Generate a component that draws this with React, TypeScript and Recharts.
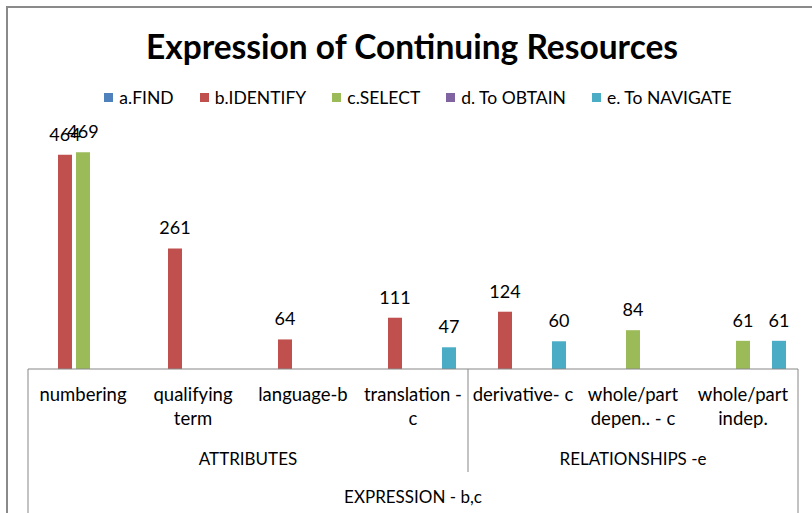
import { BarChart, Bar, XAxis, YAxis, Legend, LabelList } from "recharts";

const categories = [
  "numbering",
  "qualifying\nterm",
  "language-b",
  "translation -\nc",
  "derivative- c",
  "whole/part\ndepen.. - c",
  "whole/part\nindep.",
];

// null = no bar in that slot
const findValues = [null, null, null, null, null, null, null];
const identifyValues = [464, 261, 64, 111, 124, null, null];
const selectValues = [469, null, null, null, null, 84, 61];
const obtainValues = [null, null, null, null, null, null, null];
const navigateValues = [null, null, null, 47, 60, null, 61];

const groups = [
  { label: "ATTRIBUTES", start: 0, end: 3 },
  { label: "RELATIONSHIPS -e", start: 4, end: 6 },
];
const topGroup = "EXPRESSION - b,c";

const series = [
  { key: "find", name: "a.FIND", color: "#4F81BD", values: findValues },
  { key: "identify", name: "b.IDENTIFY", color: "#C0504D", values: identifyValues },
  { key: "select", name: "c.SELECT", color: "#9BBB59", values: selectValues },
  { key: "obtain", name: "d. To OBTAIN", color: "#8064A2", values: obtainValues },
  { key: "navigate", name: "e. To NAVIGATE", color: "#4BACC6", values: navigateValues },
];

const data = categories.map((cat, i) => {
  const row: Record<string, string | number | null> = { cat };
  series.forEach((s) => (row[s.key] = s.values[i]));
  return row;
});

const W = 812;
const H = 513;
const FONT = "Lato, 'Open Sans', sans-serif";
const LINE = "#868686";

const CategoryTick = (props: any) => {
  const { x, y, payload, index } = props;
  const half = payload?.offset || 55;
  const lines = String(payload.value).split("\n");
  const left = x - half;
  const right = x + half;
  const out: any[] = [];
  lines.forEach((ln, i) => {
    out.push(
      <text key={"l" + i} x={x} y={y + 32 + i * 24} textAnchor="middle" fontSize={18.5} fill="#000" fontFamily={FONT}>
        {ln}
      </text>
    );
  });
  groups.forEach((g, gi) => {
    if (g.start === index) {
      const span = (g.end - g.start + 1) * half * 2;
      out.push(
        <text key={"g" + gi} x={left + span / 2} y={y + 96} textAnchor="middle" fontSize={17} fill="#000" fontFamily={FONT}>
          {g.label}
        </text>
      );
      if (index === 0) {
        out.push(<line key="outL" x1={left} x2={left} y1={y} y2={H} stroke={LINE} strokeWidth={1} />);
        const all = categories.length * half * 2;
        out.push(
          <text key="top" x={left + all / 2} y={y + 134} textAnchor="middle" fontSize={17} fill="#000" fontFamily={FONT}>
            {topGroup}
          </text>
        );
      } else {
        out.push(<line key={"sep" + gi} x1={left} x2={left} y1={y} y2={y + 103} stroke={LINE} strokeWidth={1} />);
      }
    }
  });
  if (index === categories.length - 1) {
    out.push(<line key="outR" x1={right} x2={right} y1={y} y2={H} stroke={LINE} strokeWidth={1} />);
  }
  return <g>{out}</g>;
};

const renderLabel = (props: any) => {
  const { x, y, width, value } = props;
  if (value === null || value === undefined) return null;
  return (
    <text x={x + width / 2} y={y - 14} textAnchor="middle" fontSize={18} fill="#000" fontFamily={FONT}>
      {value}
    </text>
  );
};

const LegendContent = (props: any) => {
  const items = props.payload || [];
  return (
    <div style={{ display: "flex", justifyContent: "center", fontFamily: FONT, fontSize: 17.5, color: "#000", paddingLeft: 50 }}>
      {items.map((it: any) => (
        <div key={it.value} style={{ display: "flex", alignItems: "center", marginRight: 26 }}>
          <span style={{ width: 9, height: 9, background: it.color, display: "inline-block", marginRight: 6 }} />
          <span>{it.value}</span>
        </div>
      ))}
    </div>
  );
};

export default function App() {
  return (
    <div style={{ position: "absolute", left: 0, top: 0, width: W, height: H, overflow: "hidden", background: "#fff" }}>
      <div
        style={{
          position: "absolute",
          left: 6,
          top: 6,
          width: 900,
          height: 700,
          border: "2px solid #8a8a8a",
        }}
      />
      <div
        style={{
          position: "absolute",
          left: 0,
          top: 26,
          width: W + 12,
          textAlign: "center",
          fontFamily: FONT,
          fontWeight: 700,
          fontSize: 33.5,
          lineHeight: "40px",
          color: "#000",
        }}
      >
        Expression of Continuing Resources
      </div>
      <BarChart
        width={W}
        height={H}
        data={data}
        margin={{ top: 138, right: 14, left: 28, bottom: 0 }}
        barSize={14}
        barGap={4}
        style={{ position: "absolute", left: 0, top: 0 }}
      >
        <XAxis
          dataKey="cat"
          height={144}
          interval={0}
          tickLine={false}
          tickSize={0}
          tickMargin={0}
          axisLine={{ stroke: LINE, strokeWidth: 1 }}
          tick={<CategoryTick />}
        />
        <YAxis hide domain={[0, 500]} />
        <Legend
          verticalAlign="middle"
          align="center"
          content={<LegendContent />}
          wrapperStyle={{ top: 87, left: 0, width: W }}
        />
        {series.map((s) => (
          <Bar key={s.key} dataKey={s.key} name={s.name} fill={s.color} isAnimationActive={false}>
            <LabelList dataKey={s.key} content={renderLabel} />
          </Bar>
        ))}
      </BarChart>
    </div>
  );
}
